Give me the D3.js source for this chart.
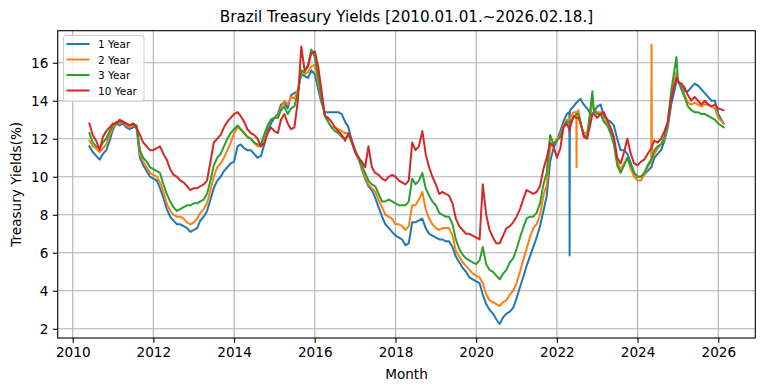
<!DOCTYPE html>
<html><head><meta charset="utf-8">
<script src="https://cdn.jsdelivr.net/npm/d3@7"></script>
<style>
body{margin:0;background:#fff}
svg{display:block}
text{font-family:"DejaVu Sans",sans-serif;fill:#000}
</style>
</head><body>
<svg id="chart" width="764" height="391"></svg>
<script>
const title = "Brazil Treasury Yields [2010.01.01.~2026.02.18.]";
const seriesNames = ["1 Year", "2 Year", "3 Year", "10 Year"];
const yTicks = [2, 4, 6, 8, 10, 12, 14, 16];

const dates = [
"2010-06-01","2010-07-01","2010-08-01","2010-09-01","2010-10-01","2010-11-01","2010-12-01",
"2011-01-01","2011-02-01","2011-03-01","2011-04-01","2011-05-01","2011-06-01","2011-07-01","2011-08-01","2011-09-01","2011-10-01","2011-11-01","2011-12-01",
"2012-01-01","2012-02-01","2012-03-01","2012-04-01","2012-05-01","2012-06-01","2012-07-01","2012-08-01","2012-09-01","2012-10-01","2012-11-01","2012-12-01",
"2013-01-01","2013-02-01","2013-03-01","2013-04-01","2013-05-01","2013-06-01","2013-07-01","2013-08-01","2013-09-01","2013-10-01","2013-11-01","2013-12-01",
"2014-01-01","2014-02-01","2014-03-01","2014-04-01","2014-05-01","2014-06-01","2014-07-01","2014-08-01","2014-09-01","2014-10-01","2014-11-01","2014-12-01",
"2015-01-01","2015-02-01","2015-03-01","2015-04-01","2015-05-01","2015-06-01","2015-07-01","2015-08-01","2015-09-01","2015-10-01","2015-11-01","2015-12-01",
"2016-01-01","2016-02-01","2016-03-01","2016-04-01","2016-05-01","2016-06-01","2016-07-01","2016-08-01","2016-09-01","2016-10-01","2016-11-01","2016-12-01",
"2017-01-01","2017-02-01","2017-03-01","2017-04-01","2017-05-01","2017-06-01","2017-07-01","2017-08-01","2017-09-01","2017-10-01","2017-11-01","2017-12-01",
"2018-01-01","2018-02-01","2018-03-01","2018-04-01","2018-05-01","2018-06-01","2018-07-01","2018-08-01","2018-09-01","2018-10-01","2018-11-01","2018-12-01",
"2019-01-01","2019-02-01","2019-03-01","2019-04-01","2019-05-01","2019-06-01","2019-07-01","2019-08-01","2019-09-01","2019-10-01","2019-11-01","2019-12-01",
"2020-01-01","2020-02-01","2020-03-01","2020-04-01","2020-05-01","2020-06-01","2020-07-01","2020-08-01","2020-09-01","2020-10-01","2020-11-01","2020-12-01",
"2021-01-01","2021-02-01","2021-03-01","2021-04-01","2021-05-01","2021-06-01","2021-07-01","2021-08-01","2021-09-01","2021-10-01","2021-11-01","2021-12-01",
"2022-01-01","2022-02-01","2022-03-01","2022-04-01","2022-04-24","2022-04-26","2022-04-28","2022-05-01","2022-06-01","2022-06-26","2022-06-28","2022-06-30","2022-07-15","2022-08-01","2022-09-01","2022-10-01","2022-11-01","2022-11-18","2022-12-01",
"2023-01-01","2023-02-01","2023-03-01","2023-04-01","2023-05-01","2023-06-01","2023-07-01","2023-08-01","2023-09-01","2023-10-01","2023-11-01","2023-12-01",
"2024-01-01","2024-02-01","2024-03-01","2024-04-01","2024-05-04","2024-05-07","2024-05-10","2024-06-01","2024-07-01","2024-08-01","2024-09-01","2024-10-01","2024-11-01","2024-12-18",
"2025-01-01","2025-02-01","2025-03-01","2025-04-01","2025-05-01","2025-06-01","2025-07-01","2025-08-01","2025-09-01","2025-10-01","2025-11-01","2025-12-01",
"2026-01-01","2026-02-18"
];

const y1 = [
11.6,11.3,11.1,10.9,11.2,11.4,11.9,
12.5,12.8,12.7,12.8,12.6,12.5,12.6,12.6,11.0,10.6,10.3,10.0,
9.9,9.8,9.4,8.9,8.3,7.9,7.7,7.5,7.5,7.4,7.3,7.1,
7.2,7.3,7.7,7.9,8.2,8.8,9.4,9.8,10.0,10.3,10.5,10.7,
10.8,11.6,11.7,11.5,11.4,11.4,11.2,11.0,11.1,11.7,12.4,12.8,
13.1,13.3,13.8,13.9,13.6,14.3,14.4,14.5,15.4,15.3,15.2,15.6,
15.4,14.6,13.9,13.4,13.4,13.4,13.4,13.4,13.3,12.9,12.6,11.9,
11.4,11.0,10.4,9.9,9.5,9.3,8.9,8.4,7.9,7.5,7.3,7.1,
6.9,6.8,6.7,6.4,6.5,7.6,7.6,7.7,7.8,7.3,7.0,6.9,
6.8,6.7,6.7,6.6,6.6,6.3,5.8,5.5,5.2,5.0,4.7,4.6,
4.5,4.4,3.8,3.3,3.0,2.8,2.5,2.25,2.6,2.8,2.9,3.1,
3.6,4.2,4.7,5.3,5.8,6.3,6.8,7.4,8.2,9.0,10.8,11.5,
11.9,12.4,12.9,13.3,13.4,5.85,13.4,13.5,13.7,13.9,13.9,13.9,14.0,14.1,13.8,13.6,13.3,13.3,13.4,
13.7,13.8,13.2,13.0,12.9,12.7,12.0,11.4,11.4,11.2,10.7,10.2,
10.0,10.0,10.1,10.3,10.5,10.5,10.6,11.0,11.2,11.4,11.9,12.6,13.8,15.0,
15.0,14.8,14.5,14.5,14.7,14.9,14.8,14.6,14.4,14.2,14.0,14.0,
13.3,12.8
];

const y2 = [
11.9,11.6,11.5,11.3,11.5,11.7,12.2,
12.6,12.8,12.8,12.9,12.7,12.6,12.7,12.7,11.2,10.8,10.5,10.2,
10.1,10.0,9.7,9.2,8.6,8.2,8.0,7.9,7.9,7.8,7.6,7.5,
7.6,7.8,8.1,8.3,8.6,9.3,10.0,10.5,10.7,11.0,11.4,11.8,
12.3,12.6,12.5,12.3,12.1,12.0,11.8,11.6,11.6,12.2,12.7,13.0,
13.1,13.2,13.6,14.0,13.8,14.2,14.1,14.6,15.6,15.4,15.5,15.8,
15.9,15.0,14.1,13.3,12.9,12.6,12.6,12.5,12.4,12.3,12.3,11.8,
11.3,11.0,10.5,10.0,9.6,9.4,9.2,8.8,8.4,8.0,7.9,7.8,
7.5,7.5,7.4,7.2,7.4,8.5,8.5,8.8,9.2,8.3,7.8,7.5,
7.3,7.2,7.3,7.3,7.3,6.9,6.1,5.8,5.5,5.3,5.1,4.9,
4.8,4.7,4.4,3.8,3.5,3.4,3.3,3.2,3.4,3.5,3.8,4.0,
4.4,5.0,5.6,6.2,6.8,7.3,7.5,8.0,9.0,9.6,11.6,11.7,
12.0,12.2,12.7,13.0,13.0,13.0,13.0,13.1,13.4,13.4,10.5,13.4,13.5,12.8,12.3,12.3,13.2,14.2,13.5,
13.4,13.4,13.0,12.8,12.4,11.9,10.8,10.4,10.7,11.0,10.4,10.0,
9.8,9.8,10.1,10.5,10.8,16.95,10.9,11.2,11.5,11.7,12.0,12.8,14.2,15.5,
15.0,14.7,14.3,13.9,13.8,13.9,13.8,13.7,13.8,13.8,13.7,13.6,
13.1,12.8
];

const y3 = [
12.3,11.8,11.6,11.5,11.8,12.0,12.4,
12.7,12.9,12.9,12.9,12.8,12.7,12.8,12.7,11.4,11.0,10.8,10.5,
10.4,10.3,10.2,9.6,9.1,8.7,8.4,8.2,8.3,8.4,8.5,8.5,
8.6,8.6,8.7,8.8,9.1,9.8,10.6,11.0,11.2,11.6,12.0,12.3,
12.5,12.7,12.5,12.3,12.1,12.0,11.8,11.7,11.7,12.2,12.7,13.0,
13.1,13.1,13.5,13.7,13.3,13.6,13.7,14.4,15.6,15.5,15.9,16.7,
16.3,15.3,14.2,13.2,12.9,12.6,12.4,12.3,12.1,12.0,12.2,11.8,
11.3,10.9,10.6,10.2,9.8,9.6,9.5,9.1,8.7,8.7,8.8,8.7,
8.6,8.5,8.5,8.5,8.7,9.9,9.6,9.8,10.2,9.4,9.0,8.7,
8.5,8.1,8.0,7.9,7.9,7.5,6.7,6.2,5.9,5.7,5.6,5.5,
5.4,5.6,6.3,5.4,5.1,5.0,4.8,4.6,4.9,5.1,5.5,5.7,
6.2,6.8,7.3,7.8,7.9,7.9,8.1,8.6,9.6,10.2,12.2,11.7,
11.9,12.1,12.6,12.9,12.9,12.9,12.9,12.9,13.1,13.3,13.3,13.3,13.3,12.9,12.2,12.1,13.6,14.5,13.5,
13.3,13.3,12.9,12.7,12.3,11.7,10.6,10.2,10.6,11.0,10.6,10.2,
10.0,10.0,10.2,10.6,10.9,10.9,11.0,11.4,11.6,11.7,12.1,12.9,14.5,16.3,
15.1,14.6,14.2,13.7,13.5,13.4,13.4,13.3,13.3,13.2,13.1,13.0,
12.8,12.6
];

const y10 = [
12.8,12.2,11.9,11.4,12.1,12.4,12.6,
12.8,12.8,13.0,12.9,12.8,12.7,12.8,12.6,12.2,11.8,11.6,11.4,
11.4,11.5,11.6,11.2,10.9,10.4,10.1,10.0,9.8,9.7,9.5,9.3,
9.4,9.4,9.5,9.6,9.8,10.8,11.8,12.0,12.2,12.6,12.9,13.1,
13.3,13.4,13.2,12.9,12.5,12.3,12.2,12.0,11.6,11.8,12.3,12.6,
12.4,12.3,13.0,13.3,12.8,12.5,12.6,14.0,16.85,15.6,15.8,16.5,
16.6,15.8,14.6,13.2,13.1,12.9,12.6,12.4,12.2,11.9,12.3,11.9,
11.3,11.0,10.8,10.5,11.6,10.5,10.2,10.1,9.9,9.8,10.0,10.1,
10.0,9.8,9.7,9.6,9.8,11.8,11.4,11.6,12.4,11.2,10.5,10.0,
9.6,9.1,9.2,9.1,9.0,8.6,7.8,7.4,7.2,7.0,7.0,6.9,
6.8,6.7,9.6,8.0,7.2,6.8,6.5,6.5,6.9,7.3,7.4,7.6,
7.9,8.3,8.8,9.3,9.2,9.1,9.2,9.5,10.4,11.0,11.8,11.6,
11.0,11.5,12.6,12.8,12.5,12.4,12.5,12.6,13.2,13.1,13.1,13.1,13.1,12.9,12.1,12.0,12.8,13.3,13.3,
13.1,13.3,13.4,13.0,12.6,12.1,11.0,10.7,11.3,12.0,11.2,10.7,
10.6,10.8,10.9,11.2,11.5,11.5,11.6,11.9,11.8,12.0,12.4,12.9,14.1,15.2,
15.0,14.9,14.7,14.3,14.0,14.2,14.0,13.8,14.0,13.8,13.7,13.8,
13.6,13.5
];

const seriesValues = [y1, y2, y3, y10];
const colors = ["#1f77b4", "#ff7f0e", "#2ca02c", "#d62728"];

const svg = d3.select("#chart");
const L = 57.7, R = 755.3, T = 30.7, B = 338;

const parse = d3.timeParse("%Y-%m-%d");
const dts = dates.map(parse);
const series = seriesValues.map((vals, i) => ({
  name: seriesNames[i], color: colors[i],
  points: vals.map((v, j) => ({d: dts[j], v}))
}));

// matplotlib-like 5% margins
const [d0, d1] = d3.extent(dts);
const dPad = (d1 - d0) * 0.05;
const allV = seriesValues.flat();
const [v0, v1] = d3.extent(allV);
const vPad = (v1 - v0) * 0.05;

const x = d3.scaleTime().domain([new Date(+d0 - dPad), new Date(+d1 + dPad)]).range([L, R]);
const y = d3.scaleLinear().domain([v0 - vPad, v1 + vPad]).range([B, T]);

const xTickDates = d3.range(2010, 2027, 2).map(yr => new Date(yr, 0, 1));

// grid
const grid = svg.append("g");
grid.selectAll("line.gx").data(xTickDates).join("line")
  .attr("x1", d => x(d)).attr("x2", d => x(d)).attr("y1", T).attr("y2", B)
  .attr("stroke", "#b0b0b0").attr("stroke-width", 1.1);
grid.selectAll("line.gy").data(yTicks).join("line")
  .attr("x1", L).attr("x2", R).attr("y1", d => y(d)).attr("y2", d => y(d))
  .attr("stroke", "#b0b0b0").attr("stroke-width", 1.1);

// lines
const line = d3.line().x(p => x(p.d)).y(p => y(p.v));
const clip = svg.append("clipPath").attr("id", "clip").append("rect")
  .attr("x", L).attr("y", T).attr("width", R - L).attr("height", B - T);
svg.append("g").attr("clip-path", "url(#clip)")
  .selectAll("path").data(series).join("path")
  .attr("d", s => line(s.points))
  .attr("fill", "none").attr("stroke", s => s.color)
  .attr("stroke-width", 2).attr("stroke-linejoin", "round").attr("stroke-linecap", "square");

// axes
const xAxis = d3.axisBottom(x).tickValues(xTickDates).tickFormat(d3.timeFormat("%Y")).tickSize(4.8).tickPadding(4.5);
const yAxis = d3.axisLeft(y).tickValues(yTicks).tickFormat(d3.format("d")).tickSize(4.8).tickPadding(4.5);
const gx = svg.append("g").attr("transform", `translate(0,${B})`).call(xAxis);
const gy = svg.append("g").attr("transform", `translate(${L},0)`).call(yAxis);
[gx, gy].forEach(g => {
  g.select(".domain").remove();
  g.selectAll(".tick line").attr("stroke", "#000").attr("stroke-width", 1.1);
  g.selectAll(".tick text").attr("font-size", "13.6px").attr("font-family", "DejaVu Sans").attr("fill", "#000");
});

// frame
svg.append("rect").attr("x", L).attr("y", T).attr("width", R - L).attr("height", B - T)
  .attr("fill", "none").attr("stroke", "#000").attr("stroke-width", 1.1);

// title & labels
svg.append("text").attr("x", (L + R) / 2).attr("y", 22).attr("text-anchor", "middle")
  .attr("font-size", "15.2px").text(title);
svg.append("text").attr("x", (L + R) / 2).attr("y", 379).attr("text-anchor", "middle")
  .attr("font-size", "13.6px").text("Month");
svg.append("text").attr("transform", `translate(16,${(T + B) / 2}) rotate(-90)`)
  .attr("text-anchor", "middle").attr("dominant-baseline", "central")
  .attr("font-size", "13.6px").text("Treasury Yields(%)");

// legend
const lg = svg.append("g");
lg.append("rect").attr("x", 63.5).attr("y", 35.5).attr("width", 80.5).attr("height", 65.5)
  .attr("rx", 2.5).attr("fill", "#fff").attr("fill-opacity", 0.8).attr("stroke", "#cccccc").attr("stroke-width", 1);
const items = lg.selectAll("g.item").data(series).join("g")
  .attr("transform", (s, i) => `translate(0,${44 + i * 15.5})`);
items.append("line").attr("x1", 66.5).attr("x2", 89.5).attr("y1", 0).attr("y2", 0)
  .attr("stroke", s => s.color).attr("stroke-width", 2);
items.append("text").attr("x", 98).attr("y", 0).attr("dominant-baseline", "central")
  .attr("font-size", "10.5px").text(s => s.name);
</script>
</body></html>
